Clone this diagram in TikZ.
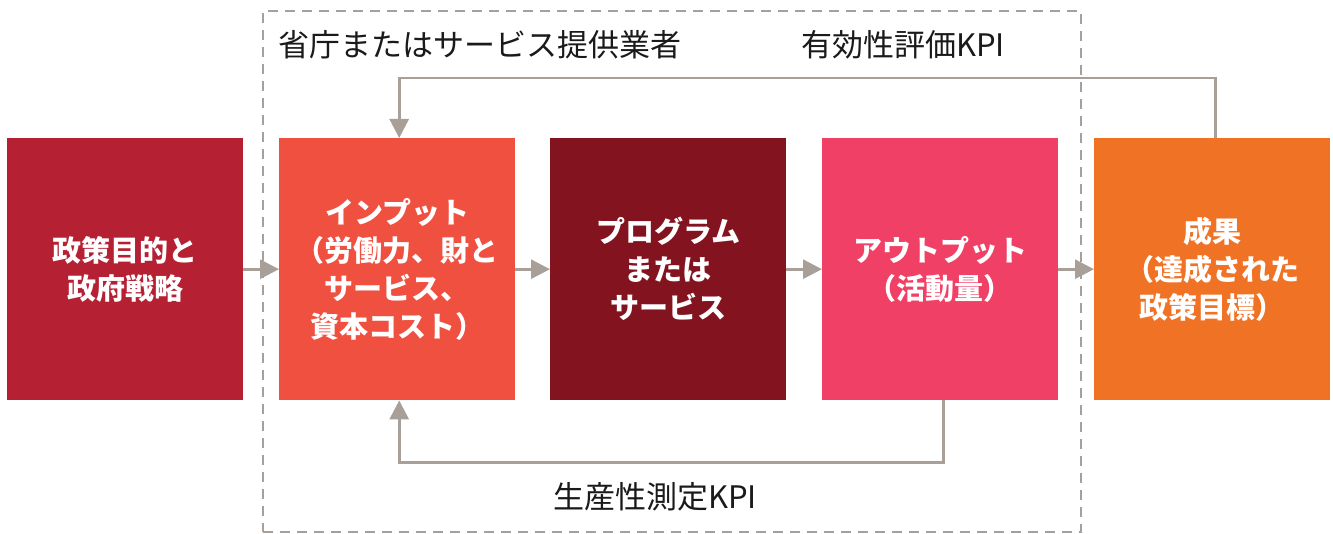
\documentclass[tikz,border=0pt]{standalone}
\usepackage{fontspec}
\setmainfont{Noto Sans CJK JP}
\usetikzlibrary{arrows.meta}
\definecolor{cA}{HTML}{B52033}
\definecolor{cB}{HTML}{F05040}
\definecolor{cC}{HTML}{83131F}
\definecolor{cD}{HTML}{F04065}
\definecolor{cE}{HTML}{F07225}
\definecolor{gline}{HTML}{A89F98}
\definecolor{txt}{HTML}{1A1A1A}
\tikzset{
  box/.style={minimum width=236pt, minimum height=262pt, inner sep=0pt, anchor=north west,
    text=white, align=center, font=\fontsize{29}{38}\selectfont\bfseries},
  arr/.style={draw=gline, line width=2.8pt, -{Triangle[length=19pt,width=19pt]}},
  lbl/.style={text=txt, inner sep=0pt, font=\fontsize{31}{36}\selectfont},
  frame/.style={draw=gline, line width=2.4pt, dash pattern=on 10pt off 7pt, minimum width=818pt,
    minimum height=521pt, anchor=north west, inner sep=0pt}
}
\begin{document}
\begin{tikzpicture}[x=1pt,y=-1pt]
\useasboundingbox (0,0) rectangle (1333,534);
\node[frame] (fr) at (262,10) {};
\node[box, fill=cA] (b1) at (7,138) {政策目的と\\政府戦略};
\node[box, fill=cB] (b2) at (279,138) {インプット\\（労働力、財と\\サービス、\\資本コスト）};
\node[box, fill=cC] (b3) at (550,138) {プログラム\\または\\サービス};
\node[box, fill=cD] (b4) at (822,138) {アウトプット\\（活動量）};
\node[box, fill=cE] (b5) at (1094,138) {成果\\（達成された\\政策目標）};
\draw[arr] (b1) -- (b2);
\draw[arr] (b2) -- (b3);
\draw[arr] (b3) -- (b4);
\draw[arr] (b4) -- (b5);
\draw[arr] ([xshift=3pt]b5.north) -- ++(0,-60) -| ([xshift=2pt]b2.north);
\draw[arr] ([xshift=3pt]b4.south) -- ++(0,62) -| ([xshift=2pt]b2.south);
\node[lbl, anchor=west] (l1) at (278,45) {省庁またはサービス提供業者};
\node[lbl] (l2) at (903,45) {有効性評価KPI};
\node[lbl] (l3) at (655,497) {生産性測定KPI};
\end{tikzpicture}
\end{document}
